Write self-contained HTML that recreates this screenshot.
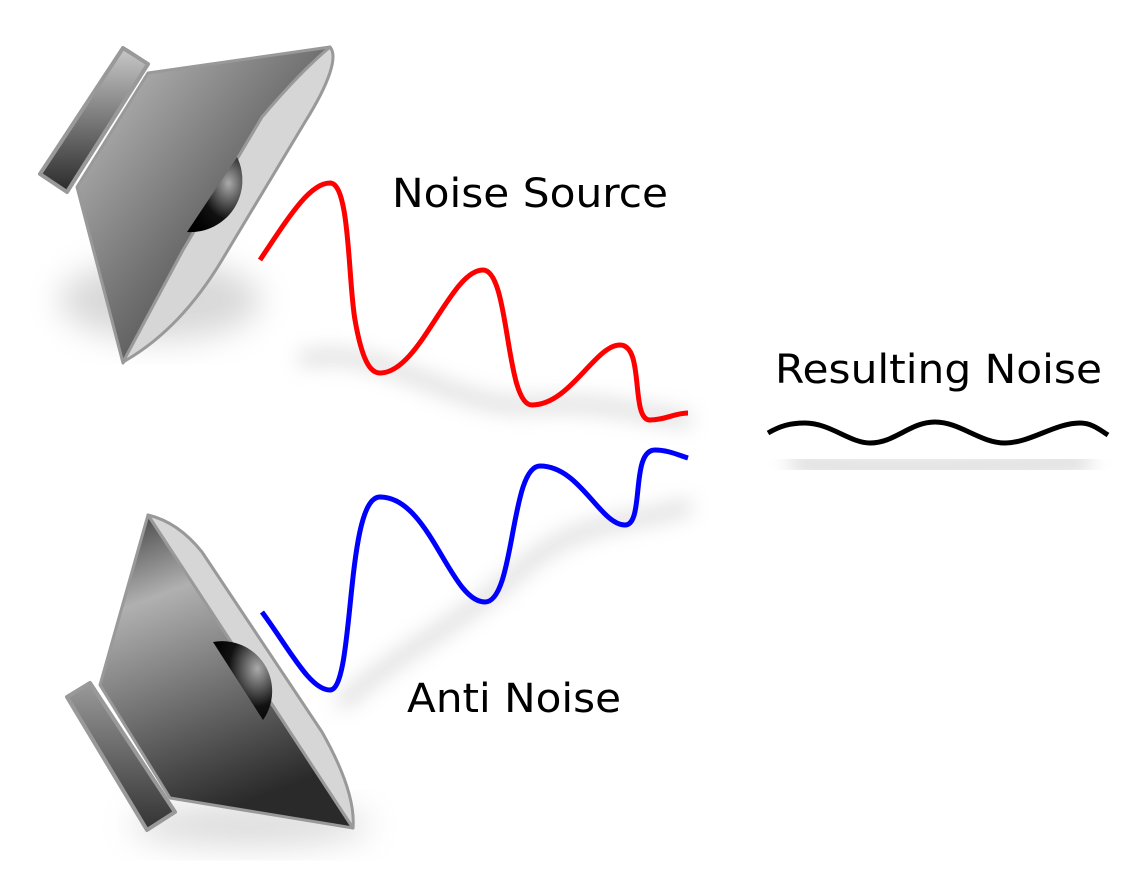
<!DOCTYPE html>
<html><head><style>html,body{margin:0;padding:0;background:#fff}</style></head>
<body>
<svg width="1148" height="868" viewBox="0 0 1148 868" xmlns="http://www.w3.org/2000/svg">
<defs>
<filter id="blur" x="-20%" y="-50%" width="140%" height="200%"><feGaussianBlur stdDeviation="10"/></filter>
<filter id="blur2" x="-30%" y="-30%" width="160%" height="160%"><feGaussianBlur stdDeviation="16"/></filter>
<linearGradient id="cone1" x1="0" y1="0" x2="1" y2="1">
<stop offset="0" stop-color="#c4c4c4"/><stop offset="0.5" stop-color="#707070"/><stop offset="1" stop-color="#222"/></linearGradient>
<linearGradient id="cone2" x1="0" y1="0" x2="0.3" y2="1">
<stop offset="0" stop-color="#3a3a3a"/><stop offset="0.3" stop-color="#b0b0b0"/><stop offset="1" stop-color="#2a2a2a"/></linearGradient>
<linearGradient id="blk" x1="0" y1="0" x2="0" y2="1">
<stop offset="0" stop-color="#c8c8c8"/><stop offset="1" stop-color="#2a2a2a"/></linearGradient>
<linearGradient id="blk2" x1="0" y1="0" x2="0" y2="1">
<stop offset="0" stop-color="#999"/><stop offset="1" stop-color="#333"/></linearGradient>
<radialGradient id="dome" cx="0.75" cy="0.35" r="0.8"><stop offset="0" stop-color="#aaa"/><stop offset="0.6" stop-color="#111"/><stop offset="1" stop-color="#000"/></radialGradient>
</defs>
<ellipse cx="160" cy="300" rx="100" ry="40" fill="#aaa" opacity="0.45" filter="url(#blur2)"/>
<ellipse cx="250" cy="825" rx="120" ry="22" fill="#aaa" opacity="0.4" filter="url(#blur2)"/>
<path d="M300,360 C380,340 450,410 530,405 S640,415 690,420" stroke="#ccc" stroke-width="12" fill="none" filter="url(#blur)" opacity="0.8"/>
<path d="M340,705 C400,650 460,625 520,570 S640,525 690,505" stroke="#ccc" stroke-width="12" fill="none" filter="url(#blur)" opacity="0.8"/>
<path d="M790,462 C850,470 950,468 1090,462" stroke="#ccc" stroke-width="18" fill="none" filter="url(#blur)" opacity="0.8"/>

<path d="M148,73 L330,47 L123,363 L77,187 Z" fill="url(#cone1)" stroke="#999" stroke-width="3" stroke-linejoin="round"/>
<path d="M123,48 L148,64 L67,192 L40,174 Z" fill="url(#blk)" stroke="#999" stroke-width="4" stroke-linejoin="round"/>
<path d="M330,47 C338,56 330,82 305,122 L222,260 Q180,330 123,362 L183,250 L262,117 Q300,72 330,47 Z" fill="#d6d6d6" stroke="#999" stroke-width="3" stroke-linejoin="round"/>
<path d="M237,157 A52,52 0 0 1 187,232 Z" fill="url(#dome)"/>

<path d="M148,515 L353,828 L170,798 L100,685 Z" fill="url(#cone2)" stroke="#999" stroke-width="3" stroke-linejoin="round"/>
<path d="M67,697 L90,683 L175,812 L147,830 Z" fill="url(#blk2)" stroke="#999" stroke-width="4" stroke-linejoin="round"/>
<path d="M148,515 Q178,522 202,552 L322,732 Q356,792 353,828 Z" fill="#d6d6d6" stroke="#999" stroke-width="3" stroke-linejoin="round"/>
<path d="M213,642 A50,50 0 0 1 263,720 Z" fill="url(#dome)"/>

<path d="M260,260 C290,215 310,183 330,183 C350,183 348,280 355,320 C362,360 370,373 380,373 C420,373 450,270 483,270 C510,270 505,405 532,405 C570,405 595,345 620,345 C645,345 630,420 650,420 C665,420 675,413 688,413" stroke="#f00" stroke-width="5" fill="none"/>
<path d="M262,612 C290,650 310,690 330,690 C355,690 345,497 380,497 C430,497 450,602 485,602 C515,602 510,466 540,466 C580,466 600,525 625,525 C645,525 630,450 655,450 C668,450 678,455 688,458" stroke="#00f" stroke-width="5" fill="none"/>
<path d="M768,433 C780,426 790,423 805,423 C830,423 850,443 870,443 C895,443 910,422 935,422 C960,422 980,443 1005,443 C1030,443 1055,423 1080,423 C1092,423 1100,430 1108,435" stroke="#000" stroke-width="5" fill="none"/>

<g font-family="DejaVu Sans, Liberation Sans, sans-serif" font-size="40" fill="#000">
<text x="392" y="207" textLength="276" lengthAdjust="spacingAndGlyphs">Noise Source</text>
<text x="775" y="383" textLength="327" lengthAdjust="spacingAndGlyphs">Resulting Noise</text>
<text x="407" y="712" textLength="214" lengthAdjust="spacingAndGlyphs">Anti Noise</text>
</g>
</svg>
</body></html>
